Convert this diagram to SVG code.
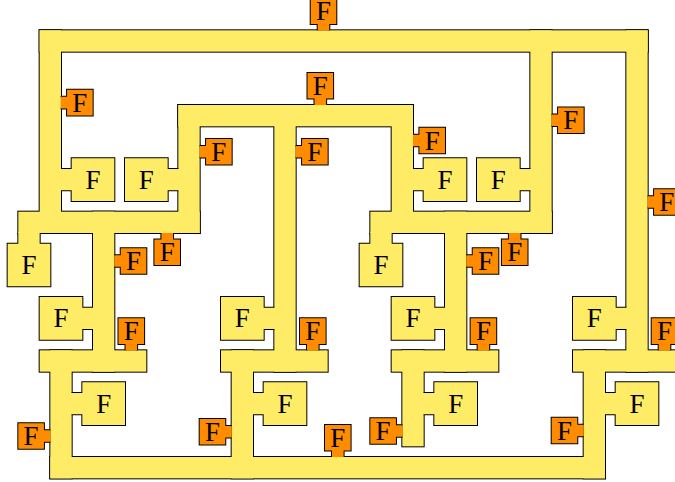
<svg xmlns="http://www.w3.org/2000/svg" width="675" height="482" viewBox="0 0 675 482">
<style>
  /* grid-unit shapes: 1 unit = 10.667px, so 0.1875 unit = 2px */
  .ln { fill: none; stroke: #000; stroke-width: 0.1875; stroke-linejoin: miter; stroke-linecap: butt; }
  .yf { fill: #FFEC66; stroke: none; }
  /* pixel-space orange tabs */
  .oln { fill: none; stroke: #000; stroke-width: 2; stroke-linejoin: miter; stroke-linecap: butt; }
  .of { fill: #FF8C00; stroke: none; }
  text { font-family: "Liberation Serif", "DejaVu Serif", serif; font-size: 27px; text-anchor: middle; fill: #000; }
</style>
<defs>
  <!-- corridor rectangles in grid units -->
  <g id="corridors">
    <rect x="2" y="0" width="57" height="2"/>
    <rect x="2" y="0" width="2" height="19"/>
    <rect x="0" y="17" width="17" height="2"/>
    <rect x="15" y="7" width="2" height="12"/>
    <rect x="15" y="7" width="22" height="2"/>
    <rect x="24" y="7" width="2" height="25"/>
    <rect x="35" y="7" width="2" height="12"/>
    <rect x="33" y="17" width="17" height="2"/>
    <rect x="48" y="0" width="2" height="19"/>
    <rect x="57" y="0" width="2" height="32"/>
    <rect x="7" y="17" width="2" height="15"/>
    <rect x="2" y="30" width="10" height="2"/>
    <rect x="3" y="30" width="2" height="12"/>
    <rect x="3" y="40" width="52" height="2"/>
    <rect x="19" y="30" width="10" height="2"/>
    <rect x="20" y="30" width="2" height="12"/>
    <rect x="40" y="17" width="2" height="15"/>
    <rect x="35" y="30" width="10" height="2"/>
    <rect x="36" y="30" width="2" height="9"/>
    <rect x="52" y="30" width="10" height="2"/>
    <rect x="53" y="30" width="2" height="12"/>
  </g>
</defs>
<rect x="0" y="0" width="675" height="482" fill="#fff"/>

<!-- corridors: outline pass, then fill pass so only the outer edge stays black -->
<g id="connectors" transform="translate(18.333 30.333) scale(10.6667)">
  <use href="#corridors" class="ln"/>
  <use href="#corridors" class="yf"/>
</g>

<!-- yellow blocks with wide tabs -->
<g id="yellow-nodes">
  <g id="y-a"><g transform="translate(18.333 30.333) scale(10.6667)"><path class="ln" d="M4,13H5V12H9V16H5V15H4"/><path class="yf" d="M3.9,13H5V12H9V16H5V15H3.9Z"/></g><text x="93" y="188.67">F</text></g>
  <g id="y-b"><g transform="translate(18.333 30.333) scale(10.6667)"><path class="ln" d="M15,13H14V12H10V16H14V15H15"/><path class="yf" d="M15.1,13H14V12H10V16H14V15H15.1Z"/></g><text x="146.33" y="188.67">F</text></g>
  <g id="y-c"><g transform="translate(18.333 30.333) scale(10.6667)"><path class="ln" d="M0,19V20H-1V24H3V20H2V19"/><path class="yf" d="M0,18.9V20H-1V24H3V20H2V18.9Z"/></g><text x="29" y="274">F</text></g>
  <g id="y-d"><g transform="translate(18.333 30.333) scale(10.6667)"><path class="ln" d="M7,26H6V25H2V29H6V28H7"/><path class="yf" d="M7.1,26H6V25H2V29H6V28H7.1Z"/></g><text x="61" y="327.33">F</text></g>
  <g id="y-e"><g transform="translate(18.333 30.333) scale(10.6667)"><path class="ln" d="M5,34H6V33H10V37H6V36H5"/><path class="yf" d="M4.9,34H6V33H10V37H6V36H4.9Z"/></g><text x="103.67" y="412.67">F</text></g>
  <g id="y-f"><g transform="translate(18.333 30.333) scale(10.6667)"><path class="ln" d="M24,26H23V25H19V29H23V28H24"/><path class="yf" d="M24.1,26H23V25H19V29H23V28H24.1Z"/></g><text x="242.33" y="327.33">F</text></g>
  <g id="y-g"><g transform="translate(18.333 30.333) scale(10.6667)"><path class="ln" d="M22,34H23V33H27V37H23V36H22"/><path class="yf" d="M21.9,34H23V33H27V37H23V36H21.9Z"/></g><text x="285" y="412.67">F</text></g>
  <g id="y-h"><g transform="translate(18.333 30.333) scale(10.6667)"><path class="ln" d="M37,13H38V12H42V16H38V15H37"/><path class="yf" d="M36.9,13H38V12H42V16H38V15H36.9Z"/></g><text x="445" y="188.67">F</text></g>
  <g id="y-i"><g transform="translate(18.333 30.333) scale(10.6667)"><path class="ln" d="M48,13H47V12H43V16H47V15H48"/><path class="yf" d="M48.1,13H47V12H43V16H47V15H48.1Z"/></g><text x="498.33" y="188.67">F</text></g>
  <g id="y-j"><g transform="translate(18.333 30.333) scale(10.6667)"><path class="ln" d="M33,19V20H32V24H36V20H35V19"/><path class="yf" d="M33,18.9V20H32V24H36V20H35V18.9Z"/></g><text x="381" y="274">F</text></g>
  <g id="y-k"><g transform="translate(18.333 30.333) scale(10.6667)"><path class="ln" d="M40,26H39V25H35V29H39V28H40"/><path class="yf" d="M40.1,26H39V25H35V29H39V28H40.1Z"/></g><text x="413" y="327.33">F</text></g>
  <g id="y-l"><g transform="translate(18.333 30.333) scale(10.6667)"><path class="ln" d="M38,34H39V33H43V37H39V36H38"/><path class="yf" d="M37.9,34H39V33H43V37H39V36H37.9Z"/></g><text x="455.67" y="412.67">F</text></g>
  <g id="y-m"><g transform="translate(18.333 30.333) scale(10.6667)"><path class="ln" d="M57,26H56V25H52V29H56V28H57"/><path class="yf" d="M57.1,26H56V25H52V29H56V28H57.1Z"/></g><text x="594.33" y="327.33">F</text></g>
  <g id="y-n"><g transform="translate(18.333 30.333) scale(10.6667)"><path class="ln" d="M55,34H56V33H60V37H56V36H55"/><path class="yf" d="M54.9,34H56V33H60V37H56V36H54.9Z"/></g><text x="637" y="412.67">F</text></g>
</g>

<!-- orange blocks with narrow tabs -->
<g id="orange-nodes">
  <g id="o-01"><path class="oln" d="M317.7,30.33V23.93H310.7V-1.67H336.3V23.93H329.3V30.33"/><path class="of" d="M317.7,30.33V23.93H310.7V-1.67H336.3V23.93H329.3V30.33Z"/><text x="323.5" y="20.1">F</text></g>
  <g id="o-02"><path class="oln" d="M60.67,96.8H67.07V89.8H92.67V115.4H67.07V108.4H60.67"/><path class="of" d="M60.67,96.8H67.07V89.8H92.67V115.4H67.07V108.4H60.67Z"/><text x="79.87" y="111.6">F</text></g>
  <g id="o-03"><path class="oln" d="M314.5,105V98.6H307.5V73H333.1V98.6H326.1V105"/><path class="of" d="M314.5,105V98.6H307.5V73H333.1V98.6H326.1V105Z"/><text x="320.3" y="94.8">F</text></g>
  <g id="o-04"><path class="oln" d="M199.67,146H206.07V139H231.67V164.6H206.07V157.6H199.67"/><path class="of" d="M199.67,146H206.07V139H231.67V164.6H206.07V157.6H199.67Z"/><text x="218.87" y="160.8">F</text></g>
  <g id="o-05"><path class="oln" d="M295.67,146H302.07V139H327.67V164.6H302.07V157.6H295.67"/><path class="of" d="M295.67,146H302.07V139H327.67V164.6H302.07V157.6H295.67Z"/><text x="314.87" y="160.8">F</text></g>
  <g id="o-06"><path class="oln" d="M413,134.7H419.4V127.7H445V153.3H419.4V146.3H413"/><path class="of" d="M413,134.7H419.4V127.7H445V153.3H419.4V146.3H413Z"/><text x="432.2" y="149.5">F</text></g>
  <g id="o-07"><path class="oln" d="M551.67,114.5H558.07V107.5H583.67V133.1H558.07V126.1H551.67"/><path class="of" d="M551.67,114.5H558.07V107.5H583.67V133.1H558.07V126.1H551.67Z"/><text x="570.87" y="129.3">F</text></g>
  <g id="o-08"><path class="oln" d="M647.67,196.2H654.07V189.2H679.67V214.8H654.07V207.8H647.67"/><path class="of" d="M647.67,196.2H654.07V189.2H679.67V214.8H654.07V207.8H647.67Z"/><text x="666.87" y="211">F</text></g>
  <g id="o-09"><path class="oln" d="M161.4,233V239.4H154.4V265H180V239.4H173V233"/><path class="of" d="M161.4,233V239.4H154.4V265H180V239.4H173V233Z"/><text x="167.2" y="261.2">F</text></g>
  <g id="o-10"><path class="oln" d="M114.33,255.2H120.73V248.2H146.33V273.8H120.73V266.8H114.33"/><path class="of" d="M114.33,255.2H120.73V248.2H146.33V273.8H120.73V266.8H114.33Z"/><text x="133.53" y="270">F</text></g>
  <g id="o-11"><path class="oln" d="M125.5,350.33V343.93H118.5V318.33H144.1V343.93H137.1V350.33"/><path class="of" d="M125.5,350.33V343.93H118.5V318.33H144.1V343.93H137.1V350.33Z"/><text x="131.3" y="340.1">F</text></g>
  <g id="o-12"><path class="oln" d="M50.33,430.2H43.93V423.2H18.33V448.8H43.93V441.8H50.33"/><path class="of" d="M50.33,430.2H43.93V423.2H18.33V448.8H43.93V441.8H50.33Z"/><text x="31.13" y="445">F</text></g>
  <g id="o-13"><path class="oln" d="M231.67,425.9H225.27V418.9H199.67V444.5H225.27V437.5H231.67"/><path class="of" d="M231.67,425.9H225.27V418.9H199.67V444.5H225.27V437.5H231.67Z"/><text x="212.47" y="440.7">F</text></g>
  <g id="o-14"><path class="oln" d="M307,350.33V343.93H300V318.33H325.6V343.93H318.6V350.33"/><path class="of" d="M307,350.33V343.93H300V318.33H325.6V343.93H318.6V350.33Z"/><text x="312.8" y="340.1">F</text></g>
  <g id="o-15"><path class="oln" d="M332,457V450.6H325V425H350.6V450.6H343.6V457"/><path class="of" d="M332,457V450.6H325V425H350.6V450.6H343.6V457Z"/><text x="337.8" y="446.8">F</text></g>
  <g id="o-16"><path class="oln" d="M466.33,255.2H472.73V248.2H498.33V273.8H472.73V266.8H466.33"/><path class="of" d="M466.33,255.2H472.73V248.2H498.33V273.8H472.73V266.8H466.33Z"/><text x="485.53" y="270">F</text></g>
  <g id="o-17"><path class="oln" d="M508.9,233V239.4H501.9V265H527.5V239.4H520.5V233"/><path class="of" d="M508.9,233V239.4H501.9V265H527.5V239.4H520.5V233Z"/><text x="514.7" y="261.2">F</text></g>
  <g id="o-18"><path class="oln" d="M477.6,350.33V343.93H470.6V318.33H496.2V343.93H489.2V350.33"/><path class="of" d="M477.6,350.33V343.93H470.6V318.33H496.2V343.93H489.2V350.33Z"/><text x="483.4" y="340.1">F</text></g>
  <g id="o-19"><path class="oln" d="M402.33,425.2H395.93V418.2H370.33V443.8H395.93V436.8H402.33"/><path class="of" d="M402.33,425.2H395.93V418.2H370.33V443.8H395.93V436.8H402.33Z"/><text x="383.13" y="440">F</text></g>
  <g id="o-20"><path class="oln" d="M583.67,424.7H577.27V417.7H551.67V443.3H577.27V436.3H583.67"/><path class="of" d="M583.67,424.7H577.27V417.7H551.67V443.3H577.27V436.3H583.67Z"/><text x="564.47" y="439.5">F</text></g>
  <g id="o-21"><path class="oln" d="M658.7,350.33V343.93H651.7V318.33H677.3V343.93H670.3V350.33"/><path class="of" d="M658.7,350.33V343.93H651.7V318.33H677.3V343.93H670.3V350.33Z"/><text x="664.5" y="340.1">F</text></g>
</g>
</svg>
